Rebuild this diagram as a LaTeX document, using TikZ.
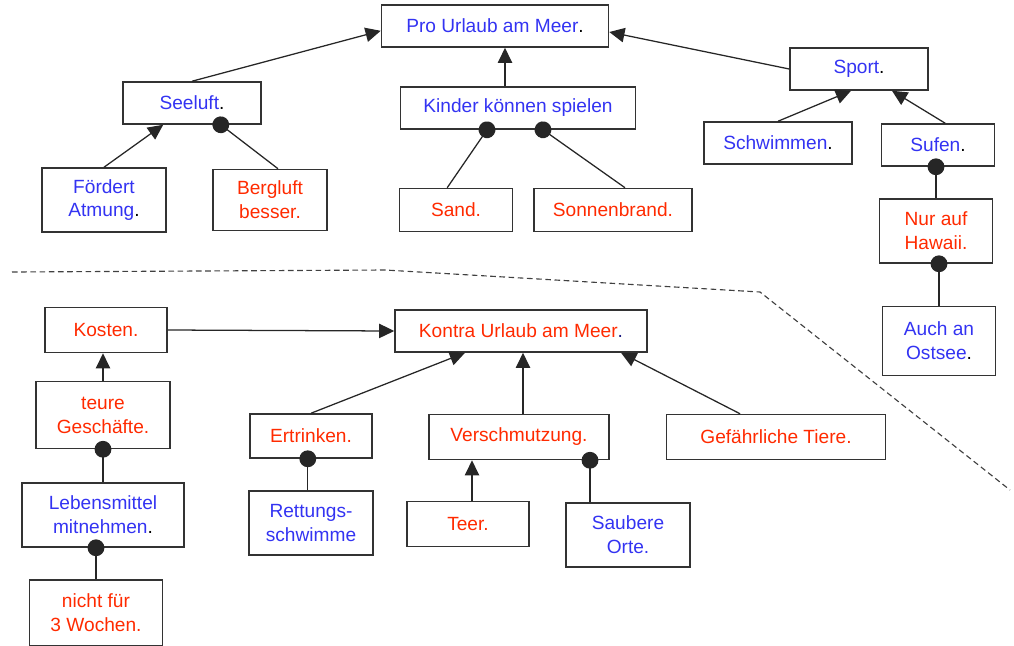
\documentclass[tikz,border=0pt]{standalone}
\usepackage{fontspec}
\setmainfont{Liberation Sans}
\usetikzlibrary{arrows.meta}
\definecolor{problue}{HTML}{3333F2}
\definecolor{contrared}{HTML}{FF2A00}
\definecolor{navypunkt}{HTML}{1A1A80}
\newcommand{\spunkt}{\textcolor{black}{.}}

\begin{document}
\begin{tikzpicture}[
  every node/.style={draw=black!80, line width=1.1pt, minimum height=1.05cm, inner sep=2pt,
                     align=center, font=\fontsize{13.6}{17}\selectfont},
  pro/.style={text=problue},
  contra/.style={text=contrared},
  two/.style={minimum height=1.6cm},
  arr/.style={-{Triangle[length=3.8mm,width=3.6mm]}, line width=0.9pt, black!85},
  dot/.style={-{Circle[length=4.2mm]}, shorten >=-2.1mm, line width=0.9pt, black!85}
]
\useasboundingbox (0,0) rectangle (25.35,-16.125);

% pro side
\node[pro, minimum width=5.675cm] (urlaubpro) at (12.375,-0.65) {Pro Urlaub am Meer\spunkt};
\node[pro, minimum width=3.45cm] (seeluft) at (4.8,-2.575) {Seeluft\spunkt};
\node[pro, minimum width=5.875cm] (kinder) at (12.95,-2.7) {Kinder können spielen};
\node[pro, minimum width=3.45cm] (sport) at (21.475,-1.725) {Sport\spunkt};
\node[pro, minimum width=3.7cm] (schwimmen) at (19.45,-3.575) {Schwimmen\spunkt};
\node[pro, minimum width=2.825cm] (sufen) at (23.45,-3.625) {Sufen\spunkt};
\node[pro, two, minimum width=3.1cm] (atmung) at (2.6,-5.0) {Fördert\\Atmung\spunkt};
\node[contra, two, minimum width=2.85cm, minimum height=1.525cm] (bergluft) at (6.75,-5.0) {Bergluft\\besser.};
\node[contra, minimum width=2.825cm, minimum height=1.075cm] (sand) at (11.4,-5.25) {Sand.};
\node[contra, minimum width=3.95cm, minimum height=1.075cm] (sonnenbrand) at (15.325,-5.25) {Sonnenbrand.};
\node[contra, two, minimum width=2.825cm] (hawaii) at (23.4,-5.775) {Nur auf\\Hawaii.};
\node[pro, minimum width=2.825cm, minimum height=1.725cm] (ostsee) at (23.475,-8.525) {Auch an\\Ostsee\spunkt};

% contra side
\node[contra, minimum width=3.05cm, minimum height=1.125cm] (kosten) at (2.65,-8.25) {Kosten.};
\node[contra, minimum width=6.3cm] (urlaubcontra) at (13.025,-8.275) {Kontra Urlaub am Meer\textcolor{navypunkt}{.}};
\node[contra, minimum width=3.35cm, minimum height=1.675cm] (geschaefte) at (2.575,-10.375) {teure\\Geschäfte.};
\node[contra, minimum width=3.05cm, minimum height=1.1cm] (ertrinken) at (7.775,-10.9) {Ertrinken.};
\node[contra, minimum width=4.5cm, minimum height=1.125cm] (verschmutzung) at (12.975,-10.925) {Verschmutzung.};
\node[contra, minimum width=5.475cm, minimum height=1.125cm] (tiere) at (19.4,-10.925) {Gefährliche Tiere.};
\node[pro, two, minimum width=4.05cm] (lebensmittel) at (2.575,-12.875) {Lebensmittel\\mitnehmen\spunkt};
\node[pro, two, minimum width=3.1cm] (rettung) at (7.775,-13.075) {Rettungs-\\schwimme};
\node[contra, minimum width=3.05cm, minimum height=1.125cm] (teer) at (11.7,-13.1) {Teer.};
\node[pro, two, minimum width=3.1cm] (saubere) at (15.7,-13.375) {Saubere\\Orte.};
\node[contra, minimum width=3.325cm, minimum height=1.65cm] (wochen) at (2.4,-15.325) {nicht für\\3 Wochen.};

% links of the upper tree
\draw[arr] (seeluft.north) -- ([yshift=-1.2mm]urlaubpro.west);
\draw[arr] ([xshift=-3.25mm]kinder.north) -- ([xshift=-3.25mm]kinder.north |- urlaubpro.south);
\draw[arr] (sport.west) -- ([yshift=-1.5mm]urlaubpro.east);
\draw[arr] (atmung.north) -- ([xshift=-7.2mm]seeluft.south);
\draw[dot] ([xshift=2mm]bergluft.north) -- ([xshift=7.2mm]seeluft.south);
\draw[dot] ([xshift=-2.2mm]sand.north) -- ([xshift=-7.75mm]kinder.south);
\draw[dot] ([xshift=3mm]sonnenbrand.north) -- ([xshift=6.25mm]kinder.south);
\draw[arr] (schwimmen.north) -- ([xshift=-2mm]sport.south);
\draw[arr] ([xshift=1.8mm]sufen.north) -- ([xshift=8.25mm]sport.south);
\draw[dot] (hawaii.north) -- (hawaii.north |- sufen.south);
\draw[dot] (ostsee.north) -- (ostsee.north |- hawaii.south);

% links of the lower tree
\draw[arr] (kosten.east) -- (urlaubcontra.west);
\draw[arr] (geschaefte.north) -- (geschaefte.north |- kosten.south);
\draw[arr] (ertrinken.north) -- ([xshift=-14mm]urlaubcontra.south);
\draw[arr] ([xshift=1mm]verschmutzung.north) -- ([xshift=1mm]verschmutzung.north |- urlaubcontra.south);
\draw[arr] ([xshift=-9mm]tiere.north) -- ([xshift=25mm]urlaubcontra.south);
\draw[dot] (lebensmittel.north) -- (lebensmittel.north |- geschaefte.south);
\draw[dot] ([xshift=-0.8mm]rettung.north) -- ([xshift=-0.8mm]rettung.north |- ertrinken.south);
\draw[arr] ([xshift=1mm]teer.north) -- ([xshift=1mm]teer.north |- verschmutzung.south);
\draw[dot] ([xshift=-9.5mm]saubere.north) -- ([xshift=-9.5mm]saubere.north |- verschmutzung.south);
\draw[dot] (wochen.north) -- (wochen.north |- lebensmittel.south);

% separator
\draw[black!75, line width=0.8pt, dash pattern=on 1.4mm off 0.9mm]
  (0.3,-6.8) -- (9.625,-6.75) -- (19.0,-7.3) -- (25.25,-12.25);
\end{tikzpicture}
\end{document}
